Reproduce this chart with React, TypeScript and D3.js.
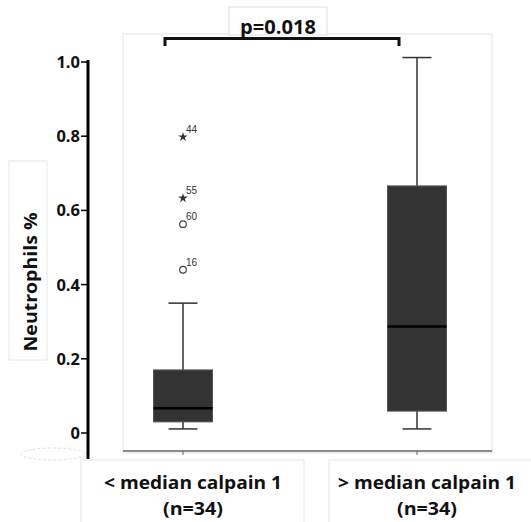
import React from "react";
import * as d3 from "d3";

const categories = ["< median calpain 1", "> median calpain 1"];
const nLabels = ["(n=34)", "(n=34)"];
const whiskerLow = [0.011, 0.011];
const q1 = [0.03, 0.059];
const median = [0.067, 0.287];
const q3 = [0.17, 0.666];
const whiskerHigh = [0.35, 1.012];
const outlierValues = [0.44, 0.563, 0.633, 0.798];
const outlierIds = ["16", "60", "55", "44"];
const outlierKinds = ["circle", "circle", "star", "star"];
const yTicks = [0, 0.2, 0.4, 0.6, 0.8, 1.0];
const yTickLabels = ["0", "0.2", "0.4", "0.6", "0.8", "1.0"];
const pLabel = "p=0.018";
const yTitle = "Neutrophils %";

export default function App() {
  const y = d3.scaleLinear().domain([0, 1]).range([433, 62]);
  const x = d3.scalePoint<string>().domain(categories).range([183, 417]);
  const boxW = 59;
  const capW = 29;
  const font = "'Open Sans', Lato, sans-serif";
  const star = d3.symbol().type(d3.symbolStar).size(28)() as string;

  return (
    <svg width={531} height={522} style={{ position: "absolute", left: 0, top: 0 }}>
      <rect width={531} height={522} fill="#fff" />
      {/* panel */}
      <rect x={123} y={34} width={369} height={419} fill="none" stroke="#e3e3e3" strokeWidth={1} />
      {/* p-value box */}
      <rect x={229} y={7} width={98} height={28} fill="#fff" stroke="#e0e0e0" strokeWidth={1} />
      <text x={278} y={34} textAnchor="middle" fontFamily={font} fontWeight={700} fontSize={19} textLength={76} lengthAdjust="spacingAndGlyphs" fill="#111">{pLabel}</text>
      {/* bracket */}
      <path d={`M${x(categories[0])! - 18},46 V38.5 H${x(categories[1])! - 18} V46`} fill="none" stroke="#111" strokeWidth={3} />
      {/* label boxes */}
      <rect x={81} y={460} width={223} height={70} fill="none" stroke="#e6e6e6" />
      <rect x={329} y={460} width={210} height={70} fill="none" stroke="#e6e6e6" />
      <rect x={9} y={161} width={38} height={199} fill="none" stroke="#e8e8e8" />
      <ellipse cx={53} cy={454} rx={32} ry={6} fill="none" stroke="#e0e0e0" strokeDasharray="3,2" />
      {/* y axis */}
      <line x1={88} x2={88} y1={60} y2={459} stroke="#000" strokeWidth={3} />
      {yTicks.map((t, i) => (
        <g key={i}>
          <line x1={81} x2={88} y1={y(t)} y2={y(t)} stroke="#000" strokeWidth={1.5} />
          <text x={80} y={y(t)} dy="0.36em" textAnchor="end" fontFamily={font} fontWeight={700} fontSize={16.5} fill="#111">{yTickLabels[i]}</text>
        </g>
      ))}
      <text transform={`translate(37,282) rotate(-90)`} textAnchor="middle" fontFamily={font} fontWeight={700} fontSize={17.5} textLength={139} lengthAdjust="spacingAndGlyphs" fill="#111">{yTitle}</text>
      {/* x axis baseline */}
      <line x1={123} x2={492} y1={451} y2={451} stroke="#666" strokeWidth={1.5} />
      {categories.map((c, i) => {
        const cx = x(c)!;
        return (
          <g key={c}>
            <line x1={cx} x2={cx} y1={451} y2={455} stroke="#666" strokeWidth={1} />
            <line x1={cx} x2={cx} y1={y(whiskerLow[i])} y2={y(whiskerHigh[i])} stroke="#333" strokeWidth={1.5} />
            <line x1={cx - capW / 2} x2={cx + capW / 2} y1={y(whiskerLow[i])} y2={y(whiskerLow[i])} stroke="#333" strokeWidth={1.5} />
            <line x1={cx - capW / 2} x2={cx + capW / 2} y1={y(whiskerHigh[i])} y2={y(whiskerHigh[i])} stroke="#333" strokeWidth={1.5} />
            <rect x={cx - boxW / 2} y={y(q3[i])} width={boxW} height={y(q1[i]) - y(q3[i])} fill="#333" stroke="#555" strokeWidth={1} />
            <line x1={cx - boxW / 2} x2={cx + boxW / 2} y1={y(median[i])} y2={y(median[i])} stroke="#000" strokeWidth={2.5} />
            <text x={cx + 10} y={489} textAnchor="middle" fontFamily={font} fontWeight={700} fontSize={18} textLength={178} lengthAdjust="spacingAndGlyphs" fill="#111">{c}</text>
            <text x={cx + 10} y={515} textAnchor="middle" fontFamily={font} fontWeight={700} fontSize={18} textLength={60} lengthAdjust="spacingAndGlyphs" fill="#111">{nLabels[i]}</text>
          </g>
        );
      })}
      {outlierValues.map((v, i) => {
        const cx = x(categories[0])!;
        const cy = y(v);
        return (
          <g key={i}>
            {outlierKinds[i] === "circle" ? (
              <circle cx={cx} cy={cy} r={3.3} fill="none" stroke="#444" strokeWidth={1.2} />
            ) : (
              <path d={star} transform={`translate(${cx},${cy})`} fill="#333" />
            )}
            <text x={cx + 3} y={cy - 4} fontFamily="Arial, 'Liberation Sans', sans-serif" fontSize={10} fill="#333">{outlierIds[i]}</text>
          </g>
        );
      })}
    </svg>
  );
}
